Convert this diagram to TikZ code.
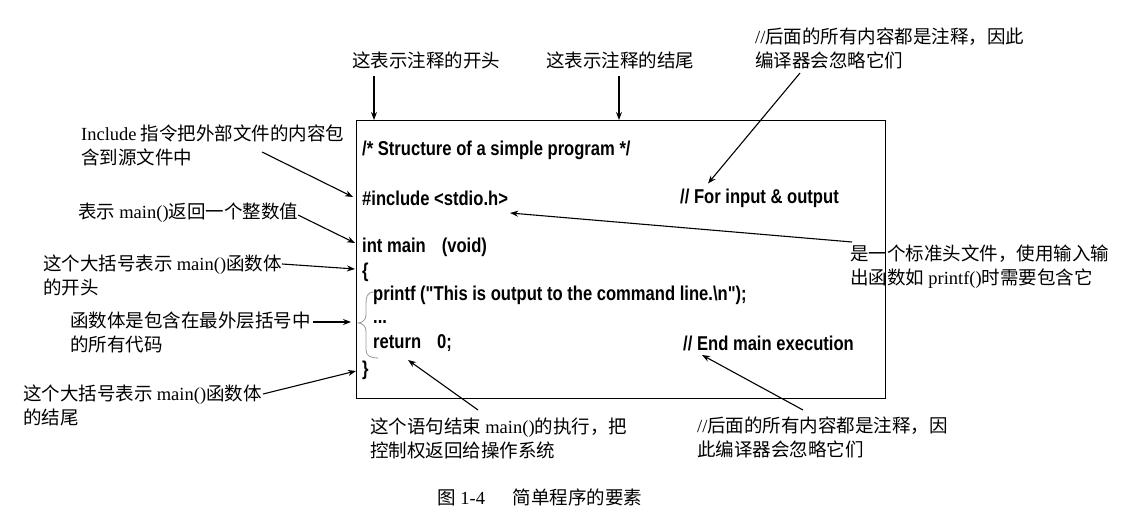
\documentclass[tikz,border=0pt]{standalone}
\usepackage{fontspec}
\setmainfont{Liberation Serif}
\newfontfamily\cjk{Noto Sans CJK SC}
\newfontfamily\codefont[FakeStretch=0.83]{Liberation Sans}
\usetikzlibrary{arrows.meta,calc}
\newcommand\lat[1]{{\rmfamily #1}}
\tikzset{
  lbl/.style={inner sep=0pt, anchor=north west, align=left, font=\fontsize{18.5}{24}\selectfont\cjk},
  code/.style={inner sep=0pt, anchor=west, font=\fontsize{20}{22}\selectfont\codefont\bfseries},
  arr/.style={line width=1.1pt, -{Stealth[length=8pt,width=6pt]}},
  frame/.style={draw, line width=1pt, inner sep=0pt, anchor=north west},
  bracecol/.style={draw=black!40, line width=0.8pt},
}
\begin{document}
\begin{tikzpicture}[x=1pt,y=-1pt]
\useasboundingbox (0,0) rectangle (1137,521);
% program box
\node[frame, minimum width=529pt, minimum height=278pt] (box) at (356,120) {};
% code lines
\node[code] (c1) at (362,150) {/* Structure of a simple program */};
\node[code] (c2) at (362,198) {\#include <stdio.h>};
\node[code] (c2r) at (680,198) {// For input \& output};
\node[code] (c3) at (362,247) {int main\hspace{16pt}(void)};
\node[code] (c4) at (362,272) {\{};
\node[code] (c5) at (373,295) {printf ("This is output to the command line.\textbackslash n");};
\node[code] (c6) at (373,322) {...};
\node[code] (c7) at (373,343) {return\hspace{16pt}0;};
\node[code] (c7r) at (683,343) {// End main execution};
\node[code] (c8) at (362,370) {\}};
% inner brace
\draw[bracecol] (374,292) .. controls (367,292) and (366,297) .. (366,304) -- (366,315)
  .. controls (366,320) and (362,323) .. (358,323)
  .. controls (362,323) and (366,326) .. (366,331) -- (366,350)
  .. controls (366,356) and (371,358) .. (378,358);
% labels
\node[lbl] (Lstart) at (352,52) {这表示注释的开头};
\node[lbl] (Lend) at (546,52) {这表示注释的结尾};
\node[lbl] (Ltr) at (755,28) {\lat{//}后面的所有内容都是注释，因此\\编译器会忽略它们};
\node[lbl] (Linc) at (81,125) {\lat{Include} 指令把外部文件的内容包\\含到源文件中};
\node[lbl] (Lret) at (78,203) {表示 \lat{main()}返回一个整数值};
\node[lbl] (Lob) at (43,255) {这个大括号表示 \lat{main()}函数体\\的开头};
\node[lbl] (Lbody) at (70,312) {函数体是包含在最外层括号中\\的所有代码};
\node[lbl] (Lcb) at (23,385) {这个大括号表示 \lat{main()}函数体\\的结尾};
\node[lbl] (Lrs) at (370,418) {这个语句结束 \lat{main()}的执行，把\\控制权返回给操作系统};
\node[lbl] (Lec) at (697,417) {\lat{//}后面的所有内容都是注释，因\\此编译器会忽略它们};
\node[lbl] (Lstd) at (850,245) {是一个标准头文件，使用输入输\\出函数如 \lat{printf()}时需要包含它};
\node[lbl, anchor=center, font=\fontsize{18.5}{22}\selectfont\cjk] (cap) at (540,497) {图 \lat{1-4}\hspace{1.5em}简单程序的要素};
% connectors
\draw[arr] ($(Lstart.north west)+(22,24)$) -- ($(box.north west)+(18,0)$);
\draw[arr] ($(Lend.north west)+(73,24)$) -- ($(box.north west)+(263,0)$);
\draw[arr] ($(Ltr.north west)+(45,45)$) -- ($(c2r.north west)+(28,-5)$);
\draw[arr] ($(Linc.north west)+(181,27)$) -- ($(c2.west)+(-9,-1)$);
\draw[arr] ($(Lret.north west)+(220,12)$) -- ($(c3.west)+(-7,-4)$);
\draw[arr] ($(Lob.north west)+(239,9)$) -- ($(c4.west)+(-7,-3)$);
\draw[arr] ($(Lbody.north west)+(243,10)$) -- ($(c6.west)+(-22,0)$);
\draw[arr] ($(Lcb.north west)+(240,9)$) -- ($(c8.west)+(-6,1)$);
\draw[arr] ($(Lrs.north west)+(108,-8)$) -- ($(c7.west)+(35,17)$);
\draw[arr] ($(Lec.north west)+(106,-7)$) -- ($(c7r.west)+(19,12)$);
\draw[arr] ($(Lstd.north west)+(2,-3)$) -- ($(c2.east)+(2,15)$);
\end{tikzpicture}
\end{document}
